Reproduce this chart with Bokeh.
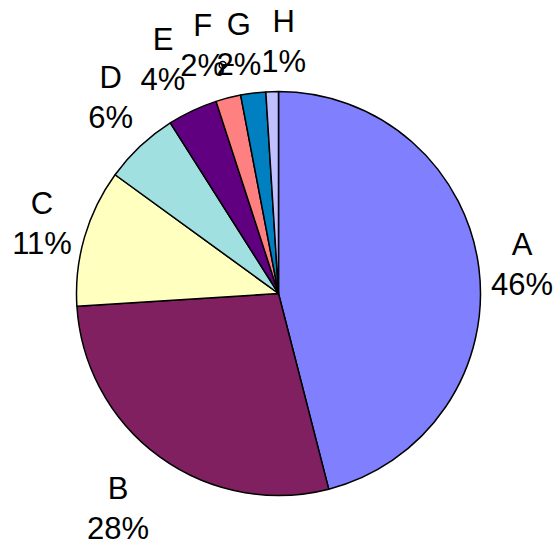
import math
from bokeh.plotting import figure
from bokeh.models import Range1d, ColumnDataSource
from bokeh.core.properties import value
from bokeh.embed import file_html
from bokeh.resources import INLINE

# ---- data ----
categories = ["A", "B", "C", "D", "E", "F", "G", "H"]
percents = [46, 28, 11, 6, 4, 2, 2, 1]
colors = ["#8080FF", "#802060", "#FFFFC0", "#A0E0E0", "#600080", "#FF8080", "#0080C0", "#C0C0FF"]

# ---- layout ----
R_PX = 202.0             # pie radius in pixels
CX_PX, CY_PX = 278, 293  # pie centre in page pixels
W, H = 553, 545
LABEL_R = 1.25
# per-label pixel nudges (dx right, dy down)
nudges = [(-7, 3), (-12, 11), (6, 0), (5, -12), (-8, -6), (-13, -3), (-8, 2), (13, 0)]

x0 = (0 - CX_PX) / R_PX
x1 = (W - CX_PX) / R_PX
y1 = CY_PX / R_PX
y0 = (CY_PX - H) / R_PX

p = figure(width=W, height=H, output_backend="svg", toolbar_location=None,
           x_range=Range1d(x0, x1), y_range=Range1d(y0, y1),
           min_border=0, outline_line_color=None)
p.axis.visible = False
p.grid.visible = False
p.background_fill_color = "white"
p.border_fill_color = "white"

total = float(sum(percents))
starts, ends, mids = [], [], []
cum = 0.0
for v in percents:
    a0 = math.pi / 2 - 2 * math.pi * cum / total
    cum += v
    a1 = math.pi / 2 - 2 * math.pi * cum / total
    starts.append(a0)
    ends.append(a1)
    mids.append((a0 + a1) / 2)

src = ColumnDataSource(dict(start=starts, end=ends, color=colors))
p.wedge(x=0, y=0, radius=1.0, start_angle="start", end_angle="end",
        direction="clock", fill_color="color", line_color="black",
        line_width=1.5, source=src)

lx, ly = [], []
for m, (dx, dy) in zip(mids, nudges):
    lx.append(LABEL_R * math.cos(m) + dx / R_PX)
    ly.append(LABEL_R * math.sin(m) - dy / R_PX)

lsrc = ColumnDataSource(dict(x=lx, y=ly, name=categories,
                             pct=[f"{v}%" for v in percents]))
common = dict(text_font=value("Liberation Sans"), text_font_size="31px",
              text_align="center", text_baseline="alphabetic", text_color="black")
p.text(x="x", y="y", text="name", y_offset=-20, source=lsrc, **common)
p.text(x="x", y="y", text="pct", y_offset=20, source=lsrc, **common)

# small leader mark next to label F
fi = categories.index("F")
fx, fy = lx[fi], ly[fi]
p.segment(x0=fx + 20 / R_PX, y0=fy - 19 / R_PX, x1=fx + 31 / R_PX, y1=fy - 19 / R_PX,
          line_color="black", line_width=2)
p.scatter(x=[fx + 20 / R_PX], y=[fy - 19 / R_PX], size=7, marker="circle",
          fill_color=None, line_color="black", line_width=1.5)

open("out.html", "w").write(file_html(p, INLINE))
